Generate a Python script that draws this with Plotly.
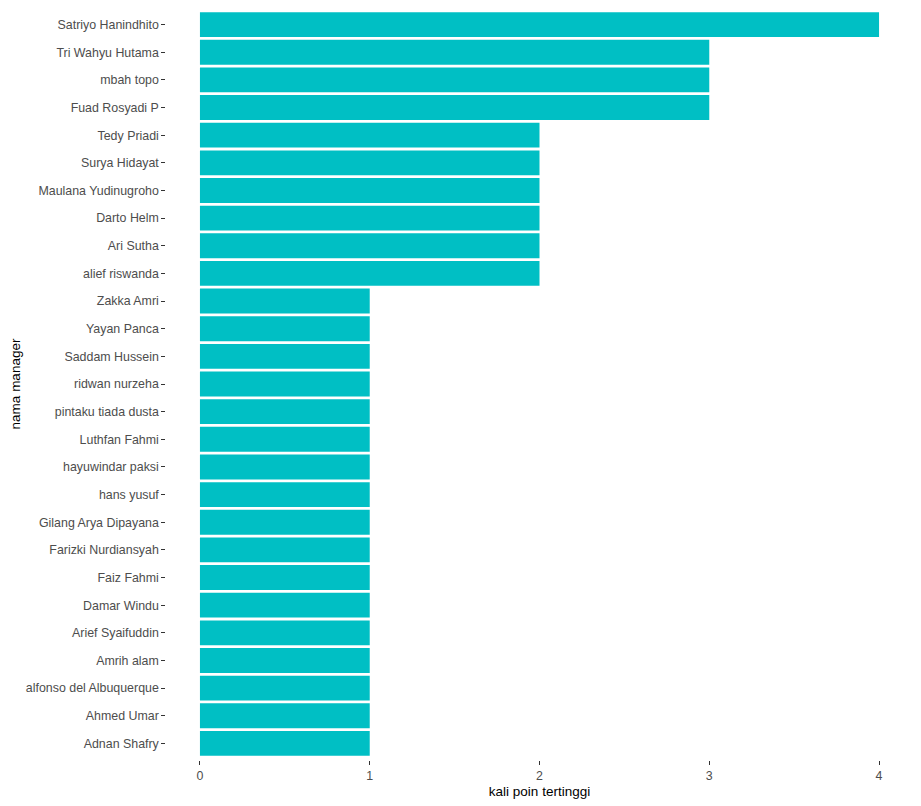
import plotly.graph_objects as go

managers = ['Satriyo Hanindhito', 'Tri Wahyu Hutama', 'mbah topo', 'Fuad Rosyadi P',
            'Tedy Priadi', 'Surya Hidayat', 'Maulana Yudinugroho', 'Darto Helm',
            'Ari Sutha', 'alief riswanda', 'Zakka Amri', 'Yayan Panca',
            'Saddam Hussein', 'ridwan nurzeha', 'pintaku tiada dusta', 'Luthfan Fahmi',
            'hayuwindar paksi', 'hans yusuf', 'Gilang Arya Dipayana', 'Farizki Nurdiansyah',
            'Faiz Fahmi', 'Damar Windu', 'Arief Syaifuddin', 'Amrih alam',
            'alfonso del Albuquerque', 'Ahmed Umar', 'Adnan Shafry']
top_counts = [4, 3, 3, 3,
              2, 2, 2, 2, 2, 2,
              1, 1, 1, 1, 1, 1, 1, 1, 1, 1, 1, 1, 1, 1, 1, 1, 1]
x_ticks = [0, 1, 2, 3, 4]

font = 'Liberation Sans, Arial, sans-serif'

fig = go.Figure()
fig.add_trace(go.Bar(
    x=top_counts,
    y=managers,
    orientation='h',
    width=0.9,
    marker=dict(color='#00BFC4', line=dict(width=0)),
))

# page body has an 8px margin, so the figure is shifted a bit up/left
fig.update_layout(
    width=921,
    height=806,
    margin=dict(l=158, r=16, t=0, b=54),
    paper_bgcolor='white',
    plot_bgcolor='white',
    showlegend=False,
    xaxis=dict(
        range=[-0.2, 4.2],
        tickvals=x_ticks,
        ticks='outside',
        ticklen=3.7,
        tickcolor='#333333',
        tickfont=dict(family=font, size=12.4, color='#4d4d4d'),
        showgrid=False,
        zeroline=False,
        showline=False,
        title=dict(text='kali poin tertinggi', font=dict(family=font, size=13.5, color='black'),
                   standoff=4),
    ),
    yaxis=dict(
        categoryorder='array',
        categoryarray=managers,
        range=[len(managers) - 0.4, -0.6],
        ticks='outside',
        ticklen=3.7,
        tickcolor='#333333',
        tickfont=dict(family=font, size=12.4, color='#4d4d4d'),
        showgrid=False,
        zeroline=False,
        showline=False,
        title=dict(text='nama manager', font=dict(family=font, size=13.5, color='black'),
                   standoff=3),
    ),
)

fig.write_html('out.html')
